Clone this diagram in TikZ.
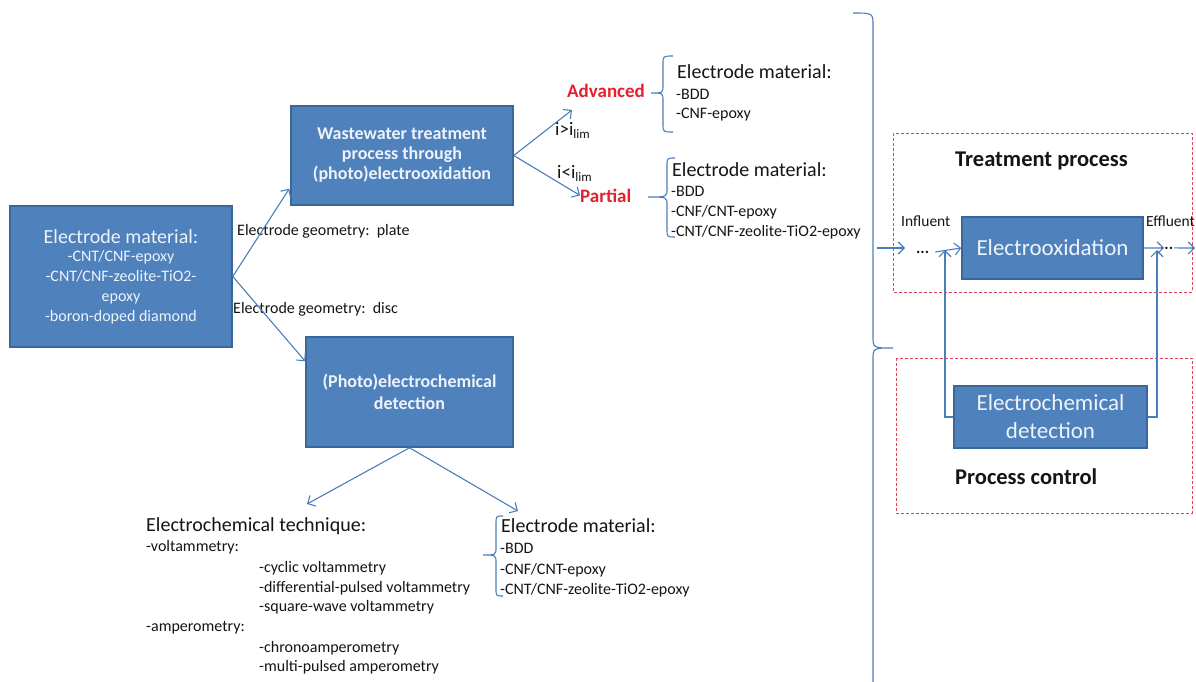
\documentclass[tikz,border=0pt]{standalone}
\usepackage{fontspec}
\setmainfont{Carlito}
\usetikzlibrary{arrows.meta,calc}
\definecolor{boxfill}{HTML}{4F81BD}
\definecolor{boxline}{HTML}{3A679B}
\definecolor{connc}{HTML}{4A7EBB}
\definecolor{redtxt}{HTML}{E3202C}
\definecolor{dashred}{HTML}{E04055}
\definecolor{boxtxt}{HTML}{EEF3FA}
\definecolor{txt}{HTML}{151515}
\newcommand{\myfs}[2]{\fontsize{#1}{#2}\selectfont}
\begin{document}
\begin{tikzpicture}[x=1pt,y=-1pt,
  bluebox/.style={draw=boxline,line width=1.5pt,fill=boxfill,text=boxtxt,align=center,inner sep=0pt},
  arrowline/.style={draw=connc,line width=1.1pt,-{Straight Barb[length=6pt,width=12pt]}},
  bracel/.style={draw=connc,line width=1.1pt},
  dashbox/.style={draw=dashred,line width=1pt,dash pattern=on 3pt off 2pt},
  lbl/.style={anchor=base west,inner sep=0pt,text=txt},
  head/.style={lbl,font=\myfs{20}{20}},
  item/.style={lbl,font=\myfs{16}{16}},
  redlbl/.style={lbl,text=redtxt,font=\bfseries\myfs{19}{19}},
]
\clip (0,0) rectangle (1196,681);
\fill[white] (0,0) rectangle (1196,681);

% ---- main boxes
\node[bluebox,minimum width=222pt,minimum height=141pt,font=\myfs{16}{20}] (mat) at (121,276.5)
  {\myfs{20}{24}Electrode material:\\[-2pt]\myfs{16}{20}-CNT/CNF-epoxy\\-CNT/CNF-zeolite-TiO2-\\epoxy\\-boron-doped diamond};
\node[bluebox,minimum width=222pt,minimum height=99pt,font=\bfseries\myfs{18}{20}] (ww) at (402,155.5)
  {Wastewater treatment\\process through\\(photo)electrooxidation};
\node[bluebox,minimum width=207pt,minimum height=110pt,font=\bfseries\myfs{18}{22}] (det) at (409.5,392)
  {(Photo)electrochemical\\detection};

% ---- geometry labels
\node[lbl,font=\myfs{16}{16}] (plate) at (237,235) {Electrode geometry:\ \ plate};
\node[lbl,font=\myfs{16}{16}] (disc) at (233,313) {Electrode geometry:\ \ disc};

\draw[arrowline] (mat.east) -- ($(ww.south west)+(-1,-17)$);
\draw[arrowline] (mat.east) -- ($(det.north west)+(0,25)$);

% ---- oxidation branches
\node[redlbl] (adv) at (567,97) {Advanced};
\node[redlbl] (par) at (580,202) {Partial};
\node[lbl,font=\myfs{19}{19}] (gt) at (555,135) {i>i\raisebox{-3pt}{\myfs{13}{13}lim}};
\node[lbl,font=\myfs{19}{19}] (lt) at (557,178) {i<i\raisebox{-3pt}{\myfs{13}{13}lim}};
\draw[arrowline] (ww.east) -- ($(adv.base west)+(5,13)$);
\draw[arrowline] (ww.east) -- (par.west);

\node[head] (advh) at (677,78) {Electrode material:};
\node[item] (adv1) at (676,99) {-BDD};
\node[item] (adv2) at (676,118) {-CNF-epoxy};
\draw[bracel] (673,56) .. controls (663,56) .. (663,64) -- (663,85) .. controls (663,93) .. (651,93)
  .. controls (663,93) .. (663,101) -- (663,124) .. controls (663,132) .. (673,132);

\node[head] (parh) at (672,176) {Electrode material:};
\node[item] (par1) at (671,196) {-BDD};
\node[item] (par2) at (671,216) {-CNF/CNT-epoxy};
\node[item] (par3) at (671,236) {-CNT/CNF-zeolite-TiO2-epoxy};
\draw[bracel] (675,158) .. controls (667,158) .. (667,166) -- (667,189) .. controls (667,197) .. (648,197)
  .. controls (667,197) .. (667,205) -- (667,229) .. controls (667,237) .. (675,237);

% ---- detection branches
\coordinate (techtip) at (307,504);
\coordinate (mattip) at (518,511);
\draw[arrowline] (det.south) -- (techtip);
\draw[arrowline] (det.south) -- (mattip);

\node[head] (techh) at (146,531) {Electrochemical technique:};
\node[item] (t1) at (146,551) {-voltammetry:};
\node[item] (t2) at (259,572) {-cyclic voltammetry};
\node[item] (t3) at (259,592) {-differential-pulsed voltammetry};
\node[item] (t4) at (259,611) {-square-wave voltammetry};
\node[item] (t5) at (146,631) {-amperometry:};
\node[item] (t6) at (259,652) {-chronoamperometry};
\node[item] (t7) at (259,671) {-multi-pulsed amperometry};

\node[head] (dmh) at (501,532) {Electrode material:};
\node[item] (dm1) at (500,553) {-BDD};
\node[item] (dm2) at (500,574) {-CNF/CNT-epoxy};
\node[item] (dm3) at (500,594) {-CNT/CNF-zeolite-TiO2-epoxy};
\draw[bracel] (503,516) .. controls (496,516) .. (496,524) -- (496,547) .. controls (496,555) .. (483,555)
  .. controls (496,555) .. (496,563) -- (496,588) .. controls (496,596) .. (503,596);

% ---- big brace
\draw[bracel] (853,13) .. controls (873,13) .. (873,26) -- (873,336) .. controls (873,348) .. (893,348)
  .. controls (873,348) .. (873,360) -- (873,690);

% ---- right-hand scheme
\draw[dashbox] (893,133) rectangle (1192,292);
\draw[dashbox] (896,358) rectangle (1192,513);
\node[lbl,font=\bfseries\myfs{22.5}{22.5}] (tp) at (955,166) {Treatment process};
\node[lbl,font=\bfseries\myfs{22.5}{22.5}] (pc) at (955,484) {Process control};

\node[bluebox,minimum width=181pt,minimum height=62pt,font=\myfs{23}{23}] (eox) at (1052.5,248) {Electrooxidation};
\node[bluebox,minimum width=193pt,minimum height=62pt,font=\myfs{23}{28}] (ecd) at (1050.5,417) {Electrochemical\\detection};

\node[lbl,font=\myfs{15.5}{15.5}] (infl) at (901,226) {Influent};
\node[lbl,font=\myfs{15.5}{15.5}] (effl) at (1146,226) {Effluent};
\node[lbl,font=\bfseries\myfs{16}{16}] (dots1) at (916,253) {...};
\node[lbl,font=\bfseries\myfs{16}{16}] (dots2) at (1160,249) {...};

\coordinate (inA) at (877,248);
\coordinate (inB) at (905,248);
\draw[arrowline] (inA) -- (inB);
\draw[arrowline] ($(dots1.east)+(6,0)$) -- (eox.west);
\draw[arrowline] (eox.east) -- ($(dots2.west)+(4,0)$);
\coordinate (outB) at (1195,248);
\draw[arrowline] ($(dots2.east)+(1,0)$) -- (outB);

\coordinate (fbL) at (945,250);
\coordinate (fbR) at (1157,250);
\draw[arrowline] (ecd.west) -| (fbL);
\draw[arrowline] (ecd.east) -| (fbR);
\end{tikzpicture}
\end{document}
